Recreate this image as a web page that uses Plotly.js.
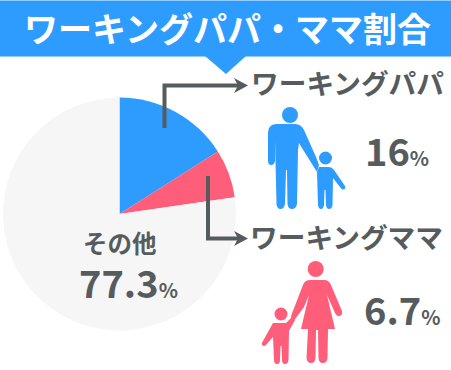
<!DOCTYPE html>
<html><head><meta charset="utf-8">
<script src="https://cdn.plot.ly/plotly-3.0.1.min.js"></script>
<style>html,body{margin:0;padding:0;background:#fff}#c{width:451px;height:370px}</style></head>
<body><div id="c"></div>
<script>
const categories = ['ワーキングパパ', 'ワーキングママ', 'その他'];
const shares = [16, 6.7, 77.3];
const sliceColors = ['#2E9BFF', '#FF5E7B', '#F6F6F6'];
const chartTitle = 'ワーキングパパ・ママ割合';
const GRAY = '#565B5E', BLUE = '#2E9BFF', PINK = '#FF5E7B', EDGE = '#90CCFF';
const FF = '"Noto Sans CJK JP","Noto Sans",sans-serif';

function txt(x, y, text, size, color, anchor) {
  return {xref:'x', yref:'y', x, y, text:'<b>'+text+'</b>', showarrow:false, xanchor:anchor||'left', yanchor:'middle',
    font:{family:FF, size, color}, borderpad:0};
}
function pct(v, big, small){ return '<span style="font-size:'+big+'px">'+v+'</span><span style="font-size:'+small+'px">%</span>'; }
function circle(cx, cy, r, color){
  return {type:'circle', xref:'x', yref:'y', x0:cx-r, x1:cx+r, y0:cy-r, y1:cy+r, fillcolor:color, line:{width:0}, layer:'above'};
}
function path(d, fill){ return {type:'path', xref:'x', yref:'y', path:d, fillcolor:fill, line:{width:0}, layer:'above'}; }
function stroke(d){ return {type:'path', xref:'x', yref:'y', path:d, line:{color:GRAY, width:4}, layer:'above'}; }

const father = 'M277 124 L295 124 Q301 124 304 130 L316 157 L319 165 L317 172 L302 148 L299 143 L298 150 L297 204 Q296 209 292 209 Q288 209 287.5 204 L287 170 L286 170 L285 204 Q284 209 280.5 209 Q277 209 276.5 204 L275 140 L275 161 Q274 165 271.5 165 Q268 165 268 161 L268 133 Q268 124 277 124 Z';
const son = 'M319 167 L329 167 Q332 167 334 170 L345 186 Q346 189 343.500 189.500 Q342 190 340 187 L333 178 L332.500 205 Q332 209 329 209 Q326.500 209 326 205 L325.500 190 L324.500 190 L324 205 Q323.500 209 321 209 Q318.500 209 318 205 L317 172 Z';
const mother = 'M310 280 L324 280 Q329 280 331 285 L342 311 Q343 315 339.500 316 Q337 317 335 313 L327 295 L335 329 L328 329 L327.500 358 Q327 363 322.500 363 Q319 363 318.500 358 L318 330 L316 330 L315.500 358 Q315 363 311 363 Q307 363 306.500 358 L308 329 L301 329 L309 295 L304 307 L293 322 L291 316 L303 285 Q305 280 310 280 Z';
const daughter = 'M273 323 L286 323 L292 317 L295 320 L289 331 L288.500 360 Q288 364 285 364 Q282 364 282 360 L281.500 346 L280.500 346 L280 360 Q280 364 277 364 Q274 364 274 360 L273 337 L266 345 Q264 347 262 345 Q261 343 263 341 Z';

const layout = {
  width:451, height:370, margin:{l:0,r:0,t:0,b:0}, paper_bgcolor:'#fff', plot_bgcolor:'rgba(0,0,0,0)', showlegend:false,
  xaxis:{range:[0,451], visible:false, fixedrange:true},
  yaxis:{range:[370,0], visible:false, fixedrange:true},
  shapes:[
    {type:'rect', xref:'x', yref:'y', x0:0, x1:451, y0:0, y1:57, fillcolor:EDGE, line:{width:0}, layer:'above'},
    {type:'rect', xref:'x', yref:'y', x0:0, x1:451, y0:1, y1:56, fillcolor:BLUE, line:{width:0}, layer:'above'},
    path('M205 56 L246 56 L226 74 Z', BLUE),
    stroke('M164.500 128 L164.500 85.500 L238 85.500'),
    path('M234 78 L248 85.500 L234 93 L238 85.500 Z', GRAY),
    stroke('M208 176 L208 238.500 L238 238.500'),
    path('M234 231 L248 238.500 L234 246 L238 238.500 Z', GRAY),
    circle(290,115,8,BLUE), path(father,BLUE), circle(325.500,158,6.500,BLUE), path(son,BLUE),
    circle(315.700,269,8,PINK), path(mother,PINK), circle(281,314,6.500,PINK), path(daughter,PINK)
  ],
  annotations:[
    txt(227,27,chartTitle,34,'#fff','center'),
    txt(250,82,categories[0],27.7,GRAY),
    txt(249,236,categories[1],27.7,GRAY),
    txt(364,149,pct(shares[0],38,20),38,GRAY),
    txt(363,308,pct(shares[1],38,20),38,GRAY),
    txt(120,242,categories[2],24.500,GRAY,'center'),
    txt(128,281,pct(shares[2],38,20),38,GRAY,'center')
  ]
};
const traces = [{
  type:'pie', labels:categories, values:shares, sort:false, direction:'clockwise', rotation:0,
  marker:{colors:sliceColors, line:{width:0}}, textinfo:'none', hoverinfo:'none',
  domain:{x:[3/451,236/451], y:[39.5/370,272.5/370]}
}];
Plotly.newPlot('c', traces, layout, {staticPlot:true, displayModeBar:false});
</script></body></html>
